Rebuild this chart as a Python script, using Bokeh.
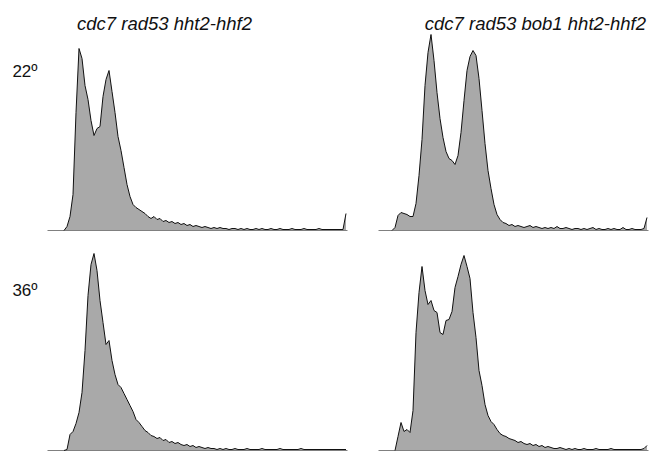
import numpy as np
from bokeh.plotting import figure
from bokeh.layouts import gridplot
from bokeh.models import Label, Range1d
from bokeh.embed import file_html
from bokeh.resources import INLINE

# ---- data (histogram counts per channel bin) ----
strain_titles = ["cdc7 rad53 hht2-hhf2", "cdc7 rad53 bob1 hht2-hhf2"]
temperatures = ["22º", "36º"]

counts_22_wt = [0, 0, 0, 0, 0, 0, 4, 14, 36, 118, 182, 172, 145, 131, 110, 95, 102, 104, 134, 151,
                160, 139, 118, 94, 80, 63, 46, 34, 26, 23, 21, 19, 17, 14, 12, 14, 11, 12, 9, 10,
                8, 9, 7, 8, 6, 7, 5, 6, 4, 5, 4, 3, 4, 3, 2, 3, 2, 3, 2, 2,
                1, 2, 2, 1, 2, 1, 2, 1, 1, 2, 1, 2, 1, 1, 2, 1, 1, 2, 1, 1,
                1, 2, 1, 1, 1, 2, 1, 1, 1, 1, 2, 1, 1, 1, 1, 1, 1, 1, 1, 17]

counts_22_bob1 = [0, 0, 0, 0, 0, 3, 15, 18, 17, 16, 14, 14, 27, 55, 91, 145, 178, 196, 170, 138,
                  112, 93, 79, 72, 70, 66, 75, 98, 130, 160, 174, 180, 175, 152, 120, 87, 60, 42, 26, 16,
                  11, 8, 7, 5, 6, 4, 5, 4, 3, 4, 5, 3, 4, 3, 2, 3, 2, 3, 2, 4,
                  2, 2, 3, 2, 1, 2, 2, 1, 2, 1, 2, 3, 1, 2, 1, 1, 2, 1, 2, 1,
                  1, 3, 1, 1, 2, 1, 1, 1, 2, 13]

counts_36_wt = [0, 0, 0, 0, 0, 0, 1, 16, 19, 27, 38, 58, 100, 155, 186, 197, 180, 150, 128, 106,
                110, 90, 76, 66, 63, 57, 51, 45, 39, 31, 28, 24, 20, 18, 15, 14, 12, 13, 10, 11,
                8, 9, 7, 8, 6, 5, 6, 4, 5, 3, 4, 3, 2, 3, 2, 2, 1, 2, 1, 2,
                1, 1, 2, 1, 1, 1, 2, 1, 1, 1, 1, 2, 1, 1, 1, 1, 1, 2, 1, 1,
                1, 1, 1, 1, 2, 1, 1, 1, 1, 1, 1, 1, 1, 1, 1, 1, 1, 1, 1, 1]

counts_36_bob1 = [0, 0, 0, 0, 0, 0, 14, 28, 19, 21, 18, 40, 118, 158, 184, 160, 146, 150, 140, 138,
                  118, 116, 130, 131, 139, 163, 174, 186, 195, 184, 172, 138, 113, 80, 65, 46, 35, 29, 26, 21,
                  17, 15, 14, 12, 11, 10, 8, 9, 7, 6, 7, 5, 6, 4, 5, 3, 4, 3, 2, 2,
                  3, 2, 1, 2, 1, 2, 1, 1, 2, 1, 1, 1, 2, 1, 1, 1, 1, 2, 1, 1,
                  1, 1, 1, 1, 1, 1, 1, 1, 2, 5]

FILL = "#a9a9a9"
LINE = "#111111"
BASE = "#808080"
FONT = "Liberation Sans"


def panel(counts, width, height, xr, yr):
    counts = np.array(counts, dtype=float)
    n = len(counts)
    x = np.arange(n) + 0.5
    p = figure(width=width, height=height, output_backend="svg", toolbar_location=None,
               x_range=Range1d(*xr), y_range=Range1d(*yr),
               min_border=0)
    p.axis.visible = False
    p.grid.visible = False
    p.outline_line_color = None
    p.background_fill_color = "white"
    p.border_fill_color = "white"
    p.varea(x=x, y1=np.zeros(n), y2=counts, fill_color=FILL)
    # baseline of the histogram axis
    p.segment(x0=[0], y0=[0], x1=[n], y1=[0], line_color=BASE, line_width=1)
    start = max(int(np.argmax(counts > 0)) - 1, 0)
    p.line(x=x[start:], y=counts[start:], line_color=LINE, line_width=1)
    return p


# left column: 360px wide, bins of 3px starting 47px in; right: 296px, starting 18px in
p1 = panel(counts_22_wt, 360, 240, (-47 / 3, 313 / 3), (-10, 230))
p2 = panel(counts_22_bob1, 296, 240, (-6, 278 / 3), (-10, 230))
p3 = panel(counts_36_wt, 360, 212, (-47 / 3, 313 / 3), (-2, 210))
p4 = panel(counts_36_bob1, 296, 212, (-6, 278 / 3), (-2, 210))

title_style = dict(text_font=FONT, text_font_size="18.5px", text_font_style="italic",
                   text_color="#111111", text_align="center", text_baseline="alphabetic")
p1.add_layout(Label(x=39, y=207, text=strain_titles[0], **title_style))
p2.add_layout(Label(x=52.3, y=207, text=strain_titles[1], **title_style))

temp_style = dict(text_font=FONT, text_font_size="17px", text_color="#111111",
                  text_align="left", text_baseline="alphabetic")
p1.add_layout(Label(x=-11.7, y=159, text=temperatures[0], **temp_style))
p3.add_layout(Label(x=-11.7, y=160, text=temperatures[1], **temp_style))

grid = gridplot([[p1, p2], [p3, p4]], toolbar_location=None)

open("out.html", "w").write(file_html(grid, INLINE))
